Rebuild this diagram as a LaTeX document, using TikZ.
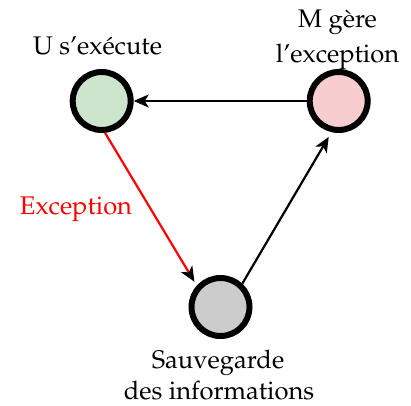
\documentclass[tikz,border=0pt]{standalone}
\usepackage[T1]{fontenc}
\usepackage{mathpazo}
\usetikzlibrary{arrows.meta}
\definecolor{cgreen}{HTML}{CDE5CD}
\definecolor{cpink}{HTML}{F8CDCF}
\definecolor{cgray}{HTML}{CCCCCC}
\tikzset{
  state/.style={circle, draw=black, line width=6pt, minimum size=58pt, inner sep=0pt},
  lbl/.style={font=\fontsize{25.5}{30}\selectfont, inner sep=0pt, anchor=base},
  arr/.style={line width=2.2pt, -{Stealth[length=15pt, width=13pt, inset=4pt, black]}},
}
\begin{document}
\begin{tikzpicture}[x=1pt,y=1pt]
\useasboundingbox (0,0) rectangle (411,405);
\node[state, fill=cgreen] (U) at (101.7,304) {};
\node[state, fill=cpink]  (M) at (338.7,304) {};
\node[state, fill=cgray]  (S) at (220.5,98) {};
\node[lbl] (tU) at (97.5,350) {U s'exécute};
\node[lbl] (tM1) at (337.5,377.5) {M gère};
\node[lbl] (tM2) at (337.5,342.5) {l'exception};
\node[lbl, text=red] (tE) at (76,190.7) {Exception};
\node[lbl] (tS1) at (218,37) {Sauvegarde};
\node[lbl] (tS2) at (219,6) {des informations};
\draw[arr] (M) -- (U);
\draw[arr, red, shorten >=4.5pt] (U.-84.5) -- (S.138);
\draw[arr, shorten >=5.5pt] (S.47) -- (M.-103.3);
\end{tikzpicture}
\end{document}
